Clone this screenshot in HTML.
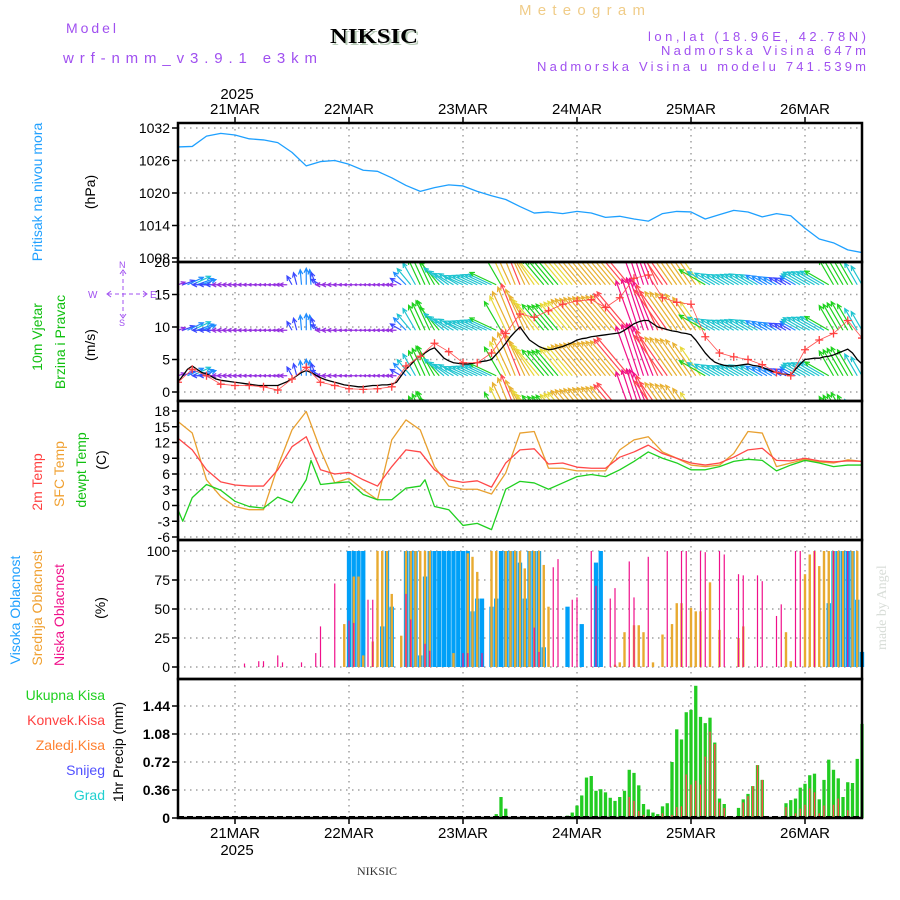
<!DOCTYPE html>
<html><head><meta charset="utf-8"><style>
html,body{margin:0;padding:0;background:#fff}
svg{display:block;font-family:"Liberation Sans",sans-serif}
</style></head><body>
<svg id="chart" width="900" height="900" viewBox="0 0 900 900" xmlns="http://www.w3.org/2000/svg">
<defs><clipPath id="windclip"><rect x="178" y="263" width="684" height="137"/></clipPath>
<clipPath id="presclip"><rect x="178" y="123" width="684" height="139"/></clipPath></defs>
<g>
<text x="66" y="33" fill="#a050f0" font-size="14" textLength="50" lengthAdjust="spacing">Model</text>
<text x="63" y="63" fill="#a050f0" font-size="15" textLength="254" lengthAdjust="spacing">wrf-nmm_v3.9.1 e3km</text>
<text x="332" y="45" fill="#b8ccb8" font-size="21" font-weight="bold" font-family="Liberation Serif,serif" textLength="88" lengthAdjust="spacingAndGlyphs">NIKSIC</text>
<text x="330" y="43" fill="#000" font-size="21" font-weight="bold" font-family="Liberation Serif,serif" textLength="88" lengthAdjust="spacingAndGlyphs">NIKSIC</text>
<text x="519" y="15" fill="#f0cc88" font-size="15" textLength="126" lengthAdjust="spacing">Meteogram</text>
<text x="648" y="41" fill="#a050f0" font-size="13" textLength="218" lengthAdjust="spacing">lon,lat (18.96E, 42.78N)</text>
<text x="661" y="55" fill="#a050f0" font-size="13" textLength="205" lengthAdjust="spacing">Nadmorska Visina 647m</text>
<text x="537" y="71" fill="#a050f0" font-size="13" textLength="329" lengthAdjust="spacing">Nadmorska Visina u modelu 741.539m</text>
<text x="237" y="99" text-anchor="middle" font-size="15">2025</text>
<text x="357" y="875" font-size="12" font-family="Liberation Serif,serif" fill="#333">NIKSIC</text>
<text transform="translate(886,650) rotate(-90)" font-size="14" font-family="Liberation Serif,serif" fill="#d8ddd8">made by Angel</text>
<text x="237" y="855" text-anchor="middle" font-size="15">2025</text>
</g>
<g font-size="14">
<text transform="translate(42,192) rotate(-90)" text-anchor="middle" fill="#20a0ff">Pritisak na nivou mora</text>
<text transform="translate(95,192) rotate(-90)" text-anchor="middle" fill="#000">(hPa)</text>
<text transform="translate(42,337) rotate(-90)" text-anchor="middle" fill="#10c010">10m Vjetar</text>
<text transform="translate(65,342) rotate(-90)" text-anchor="middle" fill="#10c010">Brzina i Pravac</text>
<text transform="translate(95,345) rotate(-90)" text-anchor="middle" fill="#000">(m/s)</text>
<text transform="translate(42,482) rotate(-90)" text-anchor="middle" fill="#ff4040">2m Temp</text>
<text transform="translate(64,474) rotate(-90)" text-anchor="middle" fill="#f0a030">SFC Temp</text>
<text transform="translate(86,470) rotate(-90)" text-anchor="middle" fill="#10c010">dewpt Temp</text>
<text transform="translate(106,460) rotate(-90)" text-anchor="middle" fill="#000">(C)</text>
<text transform="translate(20,610) rotate(-90)" text-anchor="middle" fill="#20a0ff">Visoka Oblacnost</text>
<text transform="translate(42,608) rotate(-90)" text-anchor="middle" fill="#f0a030">Srednja Oblacnost</text>
<text transform="translate(64,615) rotate(-90)" text-anchor="middle" fill="#f0108a">Niska Oblacnost</text>
<text transform="translate(105,608) rotate(-90)" text-anchor="middle" fill="#000">(%)</text>
<text transform="translate(123,752) rotate(-90)" text-anchor="middle" fill="#000">1hr Precip (mm)</text>
<text x="105" y="700" text-anchor="end" fill="#20d020">Ukupna  Kisa</text>
<text x="105" y="725" text-anchor="end" fill="#ff4040">Konvek.Kisa</text>
<text x="105" y="750" text-anchor="end" fill="#ff8030">Zaledj.Kisa</text>
<text x="105" y="775" text-anchor="end" fill="#5050ff">Snijeg</text>
<text x="105" y="800" text-anchor="end" fill="#20d0d0">Grad</text>
</g>
<g stroke="#a050f0" fill="none" stroke-width="1">
<line x1="108" y1="294" x2="146" y2="294" stroke-dasharray="4,3"/>
<line x1="123" y1="272" x2="123" y2="316" stroke-dasharray="4,3"/>
<polyline points="111,291 107,294 111,297"/><polyline points="143,291 147,294 143,297"/>
<polyline points="120,274 123,270 126,274"/><polyline points="120,314 123,318 126,314"/>
<text x="88" y="298" font-size="10" fill="#a050f0" stroke="none">W</text>
<text x="150" y="298" font-size="10" fill="#a050f0" stroke="none">E</text>
<text x="119" y="268" font-size="9" fill="#a050f0" stroke="none">N</text>
<text x="119" y="326" font-size="9" fill="#a050f0" stroke="none">S</text>
</g>
<g id="grid"></g><g id="marks"></g><g id="frames"></g>
</svg>
<script>
// ---- data (hours since 20 MAR 12Z) ----
const dayHours = [12,36,60,84,108,132];
const dayLabels = ['21MAR','22MAR','23MAR','24MAR','25MAR','26MAR'];
const presTicks = [1008,1014,1020,1026,1032];
const windTicks = [0,5,10,15,20];
const tempTicks = [-6,-3,0,3,6,9,12,15,18];
const cloudTicks = [0,25,50,75,100];
const precipTicks = [0,0.36,0.72,1.08,1.44];
const precipTickLabels = ['0','0.36','0.72','1.08','1.44'];
// 3-hourly series
const pressure = [1028.5,1028.6,1030.5,1031,1030.7,1030,1029.8,1029.3,1027.5,1025,1025.8,1026,1025.3,1024.2,1024,1022.8,1021.4,1020.3,1021,1021.5,1021.3,1020.3,1019.5,1018.8,1017.5,1016.3,1016.5,1016.2,1016.6,1016.3,1015.5,1015.7,1015.2,1014.8,1016.2,1016.6,1016.5,1015.2,1016,1016.8,1016.5,1015.6,1016.2,1015.8,1013.5,1011.5,1010.8,1009.5,1009];
const temp2m = [12.8,10.6,6.8,4.5,3.9,3.7,3.7,6.8,11.2,13.1,6.8,6,6.3,4.9,3.7,7.4,10.6,10.2,6.8,4.9,4.4,4.7,3.5,8.1,10.6,10.8,7.9,8.1,7.3,7.1,7.1,9.2,10.2,11.5,9.9,9,8.1,7.7,8.1,9.2,10.6,10.9,8.6,8.5,9,8.5,8.3,8.5,8.4];
const tempSfc = [16,13.8,4.9,1.7,-0.2,-0.8,-0.8,7.4,14.4,17.9,10.6,4.3,5.2,3,1.1,12.5,16.3,14.4,7.4,3.7,3.1,3.1,2.2,6.2,13.8,14.1,7.1,7.1,6.6,6.6,6.6,10.6,12.5,13.1,10.2,9,7.7,7.4,7.7,9.9,14.1,13.8,7.4,8.1,8.8,8.3,8.1,8.7,8.4];
const gust = [1.5,3.5,2.5,1.2,1,1,0.8,0.3,2,3.8,1.5,1,0.5,0.4,0.5,0.8,4,5.5,7.5,6.2,4.5,4.5,6,9,12,11.5,12.5,13.5,14,14.2,13,14.5,17.5,18,14.5,13.8,13.5,8.5,6,5.4,5,4.2,3,2.5,6.5,8,9,11,8.3];
const dewHours = [0,1,3,6,9,12,15,18,21,24,27,28,30,33,36,39,42,45,48,51,52,54,57,60,63,66,69,72,75,78,81,84,87,90,93,96,99,102,105,108,111,114,117,120,123,126,129,132,135,138,141,144];
const dewpt = [-0.8,-3,1.5,4,2.9,0.8,-0.2,-0.5,1.6,0.5,4.9,8.6,4,4.3,4.5,2.1,1.1,1.1,3.3,3.7,4.9,-0.2,-0.8,-3.8,-3.4,-4.6,3.1,4.6,4.3,3.1,4.3,5.5,5.9,5.5,6.8,8.4,10.2,9,8.1,6.8,6.8,7.4,8.4,8.8,8.6,6.6,7.7,8.6,8.1,7.4,7.7,7.7];
// hourly wind
const windSpd = [1.5,2.5,3.5,4,3.5,3,2.8,2.4,2,1.8,1.7,1.6,1.5,1.4,1.3,1.2,1.1,1,1,1,1,1,1.3,1.6,2,2.5,3,3.3,3,2.6,2.2,1.9,1.7,1.5,1.3,1.1,1,0.9,0.8,0.8,0.9,1,1,1.1,1.1,1.2,1.5,2.5,3.5,4.2,5,5.5,6,6.5,6.8,6,5.2,4.8,4.5,4.4,4.3,4.3,4.4,4.5,4.7,4.8,5,5.8,6.6,7.5,8.5,9.3,10,9,8,7.5,7,6.7,6.5,6.6,6.8,7,7.3,7.6,8,8.2,8.3,8.5,8.6,8.7,8.8,8.9,9,9.1,9.5,10,10.5,10.8,11,11,10.5,10,9.8,9.6,9.4,9.3,9.1,9,8.8,8,7,6,5.2,4.6,4.3,4.1,4,4,4.1,4.2,4.3,4.1,4,3.8,3.5,3.2,3,2.8,2.7,2.6,3.5,4.3,5,5.1,5.2,5.2,5.4,5.5,5.7,6,6.3,6.6,6,5,4.3];
const windDir = [250,250,245,245,250,250,90,90,90,90,90,90,90,90,90,90,90,90,90,90,90,90,90,90,150,165,175,180,175,160,120,90,90,90,90,90,90,90,90,90,90,90,90,90,90,90,90,120,135,140,150,155,155,155,150,140,130,125,120,120,115,115,115,115,115,115,115,115,150,155,155,158,158,155,150,145,140,140,140,140,140,140,140,140,140,140,140,140,140,140,140,140,140,140,140,140,160,162,162,160,158,155,145,145,145,145,145,145,145,145,145,120,120,120,120,120,120,120,120,120,120,120,120,120,120,120,120,120,120,120,120,120,120,120,120,120,120,120,150,150,150,150,150,150,150];
// cloud cover (sparse, %)
const highHours = [36,37,38,39,43,44,45,48,49,50,51,52,53,54,55,56,57,58,59,60,61,62,63,64,66,67,68,69,70,71,72,73,74,75,76,77,82,85,88,89,137,138,139,140,141,142,143,144];
const highCloud = [100,100,100,100,35,100,52,100,100,100,10,78,100,100,100,100,100,100,100,100,100,48,59,59,52,59,100,100,100,100,90,59,100,100,100,17,52,37,90,100,55,100,100,100,100,100,58,13];
const midHours = [35,37,38,39,41,42,43,44,45,47,48,49,50,51,52,53,58,61,62,63,66,67,69,70,71,72,73,74,75,76,77,78,92,93,94,96,97,98,100,102,104,105,106,108,109,110,112,114,118,119,128,129,132,133,134,135,136,137,138,139,140,142,143];
const midCloud = [37,78,78,10,22,100,100,100,63,27,100,100,100,100,100,100,12,98,95,82,100,100,100,100,100,100,85,100,100,100,88,52,2,4,30,36,36,30,4,28,37,55,55,51,48,48,73,32,25,35,30,5,80,97,100,87,100,100,100,100,100,100,100];
const lowHours = [14,17,18,21,22,26,29,30,33,36,37,40,41,48,49,52,53,60,61,64,75,76,79,80,83,84,87,88,91,92,95,96,99,103,106,107,110,111,114,115,118,119,122,123,126,127,130,131,134,138,141];
const lowCloud = [3,5,5,10,4,4,12,35,72,40,38,58,58,63,41,20,14,12,12,12,34,13,86,93,58,60,100,70,59,68,91,60,95,100,100,100,100,99,100,97,80,79,79,74,44,54,100,100,100,100,100];
// precipitation (sparse, mm/h)
const rainHours = [67,68,69,82,83,84,85,86,87,88,89,90,91,92,93,94,95,96,97,98,99,100,101,102,103,104,105,106,107,108,109,110,111,112,113,114,115,116,117,118,119,120,121,122,123,124,126,128,129,130,131,132,133,134,135,136,137,138,139,140,141,142,143,144];
const totalRain = [0.05,0.27,0.12,0.03,0.07,0.16,0.29,0.52,0.54,0.35,0.37,0.33,0.26,0.22,0.27,0.35,0.62,0.58,0.42,0.18,0.11,0.07,0.05,0.15,0.19,0.72,1.14,1.01,1.36,1.39,1.70,1.30,1.22,1.29,0.97,0.25,0.18,0.02,0.01,0.13,0.24,0.31,0.41,0.68,0.49,0.02,0.02,0.19,0.23,0.25,0.39,0.44,0.55,0.57,0.24,0.49,0.75,0.62,0.51,0.27,0.46,0.45,0.76,1.21];
const convHours = [95,96,97,98,102,104,105,106,107,108,109,110,111,112,113,114,115,119,120,121,122,123,128,130,131,132,133,134,135,136,138,139,141];
const convRain = [0.27,0.22,0.09,0.04,0.06,0.04,0.14,0.15,0.56,0.43,0.48,0.43,0.79,1.11,0.95,0.2,0.13,0.2,0.28,0.41,0.68,0.49,0.14,0.06,0.12,0.17,0.38,0.33,0.06,0.16,0.17,0.25,0.1];

// ---- axes ----
const X = h => 178 + h*4.75;
const yP = v => 128 + (1032-v)*130/24;
const yW = v => 392 - v*6.5;
const yT = v => 411 + (18-v)*5.25;
const yC = v => 667 - v*1.16;
const yR = v => 818 - v*112/1.44;
const NS = 'http://www.w3.org/2000/svg';
function mk(tag, parent){const e=document.createElementNS(NS,tag);parent.appendChild(e);return e;}
const grid=document.getElementById('grid'), marks=document.getElementById('marks'), frames=document.getElementById('frames');

const panels=[{top:123,bot:262,ticks:presTicks,f:yP,labels:presTicks.map(String),name:'pressure'},
 {top:262,bot:401,ticks:windTicks,f:yW,labels:windTicks.map(String),name:'wind'},
 {top:401,bot:540,ticks:tempTicks,f:yT,labels:tempTicks.map(String),name:'temp'},
 {top:540,bot:679,ticks:cloudTicks,f:yC,labels:cloudTicks.map(String),name:'cloud'},
 {top:679,bot:818,ticks:precipTicks,f:yR,labels:precipTickLabels,name:'precip'}];
panels.forEach(p=>{
  p.ticks.forEach((t,i)=>{
    const y=p.f(t);
    const g=mk('line',grid);
    
    
    g.setAttribute('x1',178);g.setAttribute('x2',862);g.setAttribute('y1',y);g.setAttribute('y2',y);
    g.setAttribute('stroke','#a0a0a0');g.setAttribute('stroke-width','1.5');g.setAttribute('stroke-dasharray','1.5,4.5');
    const tk=mk('line',frames);
    
    
    tk.setAttribute('x1',172);tk.setAttribute('x2',178);tk.setAttribute('y1',y);tk.setAttribute('y2',y);tk.setAttribute('stroke','#000');tk.setAttribute('stroke-width','1.5');
    const tx=mk('text',frames);
    
    
    tx.setAttribute('x',170);tx.setAttribute('y',y+5);tx.setAttribute('text-anchor','end');tx.setAttribute('font-size','14');
    if(p.name==='precip') tx.setAttribute('font-weight','bold');
    tx.textContent=p.labels[i];
  });
  dayHours.forEach(h=>{
    const g=mk('line',grid);
    
    
    g.setAttribute('x1',X(h));g.setAttribute('x2',X(h));g.setAttribute('y1',p.top);g.setAttribute('y2',p.bot);
    g.setAttribute('stroke','#a0a0a0');g.setAttribute('stroke-width','1.5');g.setAttribute('stroke-dasharray','1.5,4.5');
  });
  const r=mk('rect',frames);
  
  
  r.setAttribute('x',178);r.setAttribute('y',p.top);r.setAttribute('width',684);r.setAttribute('height',p.bot-p.top);
  r.setAttribute('fill','none');r.setAttribute('stroke','#000');r.setAttribute('stroke-width','2.5');
});
dayHours.forEach((h,i)=>{
  [[117,123],[818,824]].forEach(([a,b])=>{
    const t=mk('line',frames);
    
    
    t.setAttribute('x1',X(h));t.setAttribute('x2',X(h));t.setAttribute('y1',a);t.setAttribute('y2',b);t.setAttribute('stroke','#000');t.setAttribute('stroke-width','1.5');
  });
  const a=mk('text',frames);
  
  
  a.setAttribute('x',X(h));a.setAttribute('y',114);a.setAttribute('text-anchor','middle');a.setAttribute('font-size','15');a.textContent=dayLabels[i];
  const b=mk('text',frames);
  
  
  b.setAttribute('x',X(h));b.setAttribute('y',838);b.setAttribute('text-anchor','middle');b.setAttribute('font-size','15');b.textContent=dayLabels[i];
});

function line(hours, vals, f, color, name, w, clip){
  const pl=mk('polyline',marks);
  
  
  pl.setAttribute('points',vals.map((v,i)=>X(hours[i])+','+f(v)).join(' '));
  pl.setAttribute('fill','none');pl.setAttribute('stroke',color);pl.setAttribute('stroke-width',w||1.3);pl.setAttribute('stroke-linejoin','round');
  if(clip) pl.setAttribute('clip-path','url(#'+clip+')');
  return pl;
}
const h3 = pressure.map((_,i)=>i*3);
line(h3,pressure,yP,'#1ea0ff','pressure-line',1.3,'presclip');

// wind arrows
function wcol(s){
  if(s<2) return '#9530e0'; if(s<3) return '#3a48ff'; if(s<4) return '#1e8cff';
  if(s<5.5) return '#1ec4d0'; if(s<7) return '#1ed21e'; if(s<8) return '#e8d838';
  if(s<9.5) return '#e8b030'; if(s<10.3) return '#ff4a50'; return '#f0108a';
}
const wg=mk('g',marks);wg.setAttribute('clip-path','url(#windclip)');


[16.5,9.5,2.5,-4.5].forEach(base=>{
  windSpd.forEach((s,h)=>{
    const th=(windDir[h]+180)*Math.PI/180, L=s*5;
    const x0=X(h), y0=yW(base), x1=x0+Math.sin(th)*L, y1=y0-Math.cos(th)*L;
    const c=wcol(s);
    const ar=mk('path',wg);
    
    
    const a1=th+Math.PI-0.45, a2=th+Math.PI+0.45, hl=Math.min(5,L*0.6);
    const d='M'+x0+','+y0+'L'+x1+','+y1+'M'+(x1+Math.sin(a1)*hl)+','+(y1-Math.cos(a1)*hl)+'L'+x1+','+y1+'L'+(x1+Math.sin(a2)*hl)+','+(y1-Math.cos(a2)*hl);
    ar.setAttribute('d',d);ar.setAttribute('stroke',c);ar.setAttribute('stroke-width','1.2');ar.setAttribute('fill','none');
  });
});
const hh=windSpd.map((_,i)=>i);
line(hh,windSpd,yW,'#000','wind-speed-line',1.3,'windclip');
line(h3,gust,yW,'#ff5050','gust-line',0.8,'windclip');
gust.forEach((v,i)=>{
  const c=mk('path',marks);
  
  
  const x=X(i*3),y=yW(v);
  c.setAttribute('d','M'+(x-4)+','+y+'h8M'+x+','+(y-4)+'v8');
  c.setAttribute('stroke','#ff4040');c.setAttribute('stroke-width','1.3');c.setAttribute('clip-path','url(#windclip)');
});

// temperature
line(h3,tempSfc,yT,'#e8a030','sfc-temp-line',1.3);
line(h3,temp2m,yT,'#ff4848','temp-2m-line',1.3);
line(dewHours,dewpt,yT,'#20d020','dewpt-line',1.3);

// clouds
function bars(hours, vals, f, color, w, name){
  vals.forEach((v,i)=>{
    const r=mk('rect',marks);
    
    
    const y=f(v), y0=f(0);
    r.setAttribute('x',X(hours[i])-w/2);r.setAttribute('y',y);r.setAttribute('width',w);r.setAttribute('height',Math.max(0,y0-y));
    r.setAttribute('fill',color);
  });
}
bars(highHours,highCloud,yC,'#00a0f8',4.3,'high-cloud-bar');
bars(midHours,midCloud,yC,'#e8aa30',2.4,'mid-cloud-bar');
bars(lowHours,lowCloud,yC,'#f0108a',1.2,'low-cloud-bar');
bars(rainHours,totalRain,yR,'#22cc22',3.3,'total-rain-bar');
bars(convHours,convRain,yR,'#ff4a4a',1.4,'convective-rain-bar');
const zl=mk('line',frames);


zl.setAttribute('x1',178);zl.setAttribute('x2',862);zl.setAttribute('y1',817);zl.setAttribute('y2',817);zl.setAttribute('stroke','#000');zl.setAttribute('stroke-width','2');zl.setAttribute('stroke-dasharray','6,3');
</script>
</body></html>
